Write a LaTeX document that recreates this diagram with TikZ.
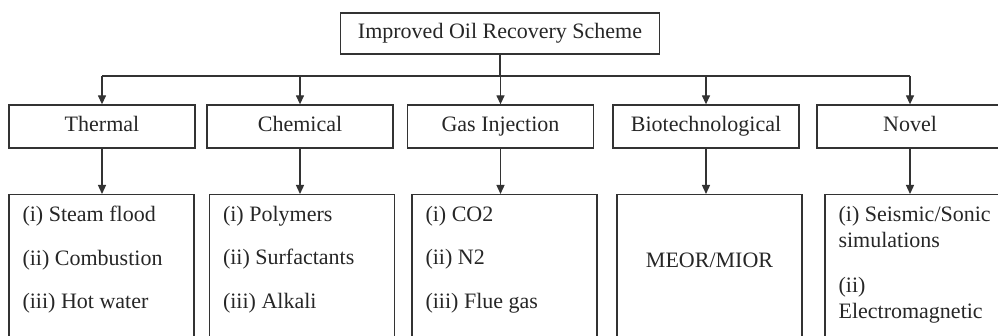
\documentclass[tikz,border=0pt]{standalone}
\usepackage{fontspec}
\setmainfont{Liberation Serif}
\usetikzlibrary{arrows.meta}

\tikzset{
	box/.style={draw=black!80, line width=1.3pt, minimum height=43pt, minimum width=186pt, inner sep=0pt, text height=15pt, text depth=5pt},
	listbox/.style={draw=black!80, line width=1.3pt, minimum height=170pt, minimum width=185pt, anchor=north},
	listtext/.style={anchor=north west, inner sep=0pt, align=left, font=\fontsize{22}{43.5}\selectfont},
	link/.style={line width=1.3pt, draw=black!80, -{Triangle[width=8pt,length=9pt]}}
}

\begin{document}
\begin{tikzpicture}[x=1pt, y=-1pt, font=\fontsize{22}{26}\selectfont, text=black!85]
	\useasboundingbox (0,0) rectangle (998,336);
	\clip (0,0) rectangle (998,336);

	% top
	\node[box, minimum width=319pt, minimum height=41pt] (root) at (500,33.5) {Improved Oil Recovery Scheme};

	% methods
	\node[box] (thermal) at (102,126.5) {Thermal};
	\node[box] (chemical) at (300,126.5) {Chemical};
	\node[box] (gas) at (500.5,126.5) {Gas Injection};
	\node[box] (bio) at (706,126.5) {Biotechnological};
	\node[box] (novel) at (910,126.5) {Novel};

	% lists
	\node[listbox] (thermal-items) at (101.5,194) {};
	\node[listbox] (chemical-items) at (302,194) {};
	\node[listbox] (gas-items) at (504.5,194) {};
	\node[listbox] (bio-items) at (709.5,194) {};
	\node[listbox] (novel-items) at (917.5,194) {};

	\node[listtext] (thermal-text) at ([xshift=14pt,yshift=-12pt]thermal-items.north west) {(i) Steam flood\\(ii) Combustion\\(iii) Hot water};
	\node[listtext] (chemical-text) at ([xshift=14pt,yshift=-12pt]chemical-items.north west) {(i) Polymers\\(ii) Surfactants\\(iii) Alkali};
	\node[listtext] (gas-text) at ([xshift=14pt,yshift=-12pt]gas-items.north west) {(i) CO2\\(ii) N2\\(iii) Flue gas};
	\node (bio-text) at (709.5,260) {MEOR/MIOR};
	\node[listtext, font=\fontsize{22}{26}\selectfont] (novel-text) at ([xshift=14pt,yshift=-12pt]novel-items.north west) {(i) Seismic/Sonic\\simulations\\[19pt](ii)\\Electromagnetic};

	% connectors
	\coordinate (bar) at (0,76);
	\draw[line width=1.3pt, draw=black!80] (root.south) -- (root.south |- bar);
	\draw[line width=1.3pt, draw=black!80] (thermal.north |- bar) -- (novel.north |- bar);
	\foreach \n in {thermal,chemical,gas,bio,novel} {
		\draw[link] (\n.north |- bar) -- (\n.north);
		\draw[link] (\n.south) -- (\n.south |- \n-items.north);
	}
\end{tikzpicture}
\end{document}
